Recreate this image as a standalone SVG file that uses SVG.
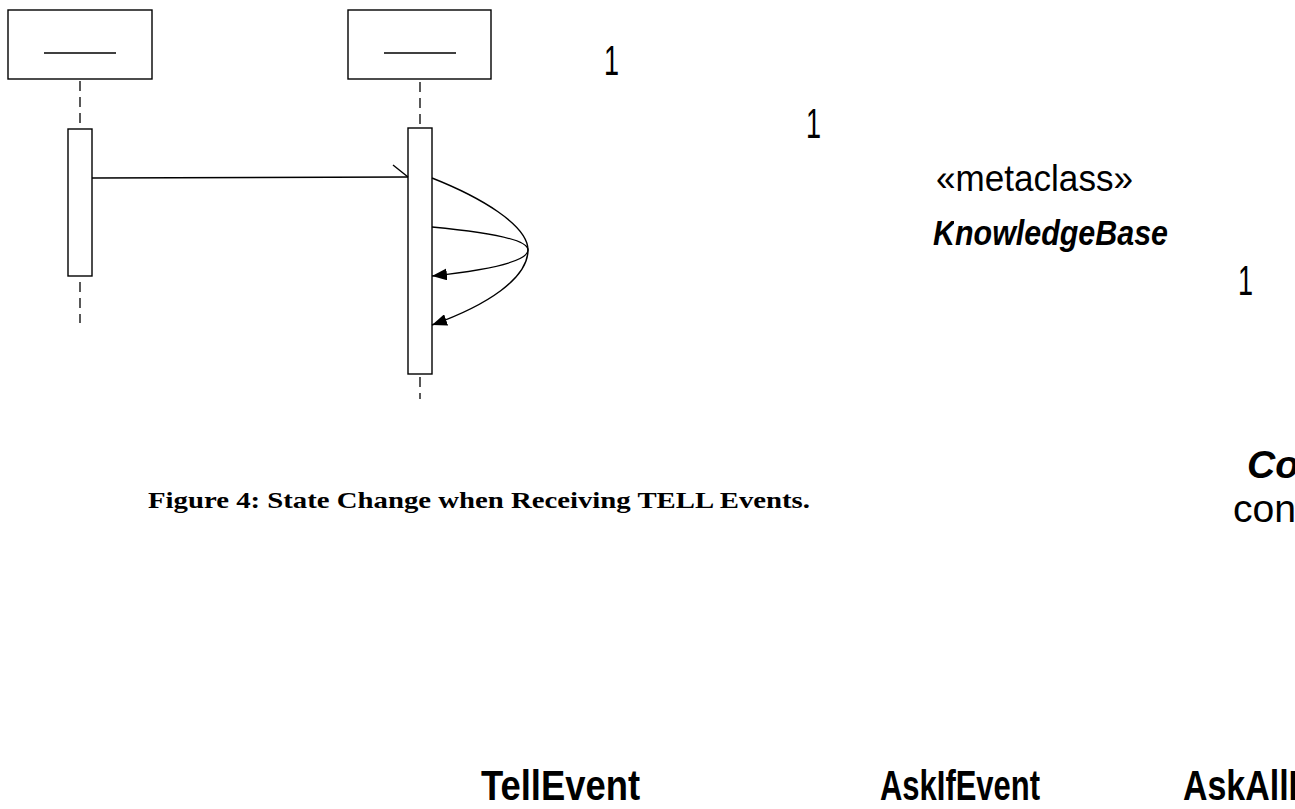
<svg xmlns="http://www.w3.org/2000/svg" width="1295" height="809" viewBox="0 0 1295 809">
  <style>
    .box { fill: #fff; stroke: #000; stroke-width: 1.4; }
    .life { stroke: #000; stroke-width: 1.3; stroke-dasharray: 10 6; fill: none; }
    .msg { stroke: #000; stroke-width: 1.4; fill: none; }
    .sans { font-family: "Liberation Sans", Arial, sans-serif; fill: #000; }
    .serif { font-family: "Liberation Serif", "Times New Roman", serif; fill: #000; }
  </style>
  <defs>
    <marker id="solidHead" viewBox="0 0 15 12" refX="15" refY="6" markerWidth="15" markerHeight="12" markerUnits="userSpaceOnUse" orient="auto">
      <path d="M0,0 L15,6 L0,12 Z" fill="#000"/>
    </marker>
    <!-- the middle letters of the class name lose their tops -->
    <clipPath id="kbClip">
      <path d="M900,190 H1200 V260 H900 Z M954,190 V226 H1000 V190 Z" clip-rule="evenodd"/>
    </clipPath>
  </defs>

  <!-- first object: head box, lifeline, activation -->
  <g id="objectA">
    <rect class="box" x="8" y="10" width="144" height="69"/>
    <line x1="44" y1="53" x2="116" y2="53" stroke="#000" stroke-width="1.4"/>
    <line class="life" x1="80" y1="81" x2="80" y2="128"/>
    <rect class="box" x="68" y="129" width="24" height="147"/>
    <line class="life" x1="80" y1="282" x2="80" y2="323"/>
  </g>

  <!-- second object: head box, lifeline, activation -->
  <g id="objectB">
    <rect class="box" x="348" y="10" width="143" height="69"/>
    <line x1="384" y1="53" x2="456" y2="53" stroke="#000" stroke-width="1.4"/>
    <line class="life" x1="420" y1="82" x2="420" y2="127"/>
    <rect class="box" x="408" y="128" width="24" height="246"/>
    <line class="life" x1="420" y1="377" x2="420" y2="399"/>
  </g>

  <!-- messages -->
  <g id="connectors">
    <line class="msg" x1="92" y1="178" x2="408" y2="177"/>
    <line class="msg" x1="393" y1="165" x2="408" y2="177"/>
    <path class="msg" d="M432,178 C480,197 528,225 528,250 C528,278 488,305 432,325" marker-end="url(#solidHead)"/>
    <path class="msg" d="M432,227 C475,231 528,238 528,250 C528,263 478,271 432,276" marker-end="url(#solidHead)"/>
  </g>

  <!-- multiplicities -->
  <g id="mult1"><text class="sans" x="604" y="75" font-size="42" textLength="15" lengthAdjust="spacingAndGlyphs">1</text></g>
  <g id="mult2"><text class="sans" x="806" y="138" font-size="42" textLength="15" lengthAdjust="spacingAndGlyphs">1</text></g>
  <g id="mult3"><text class="sans" x="1238" y="295" font-size="42" textLength="15" lengthAdjust="spacingAndGlyphs">1</text></g>

  <!-- metaclass -->
  <g id="knowledgeBase">
    <text class="sans" x="936" y="191" font-size="36" textLength="197" lengthAdjust="spacingAndGlyphs">«metaclass»</text>
    <text class="sans" x="933" y="245" font-size="35" font-weight="bold" font-style="italic" textLength="235" lengthAdjust="spacingAndGlyphs" clip-path="url(#kbClip)">KnowledgeBase</text>
  </g>

  <!-- right-edge class -->
  <g id="co">
    <text class="sans" x="1247" y="478" font-size="38" font-weight="bold" font-style="italic" textLength="52" lengthAdjust="spacingAndGlyphs">Co</text>
    <text class="sans" x="1233" y="522" font-size="38" textLength="74" lengthAdjust="spacingAndGlyphs">cont</text>
  </g>

  <!-- caption -->
  <g id="caption">
    <text class="serif" x="148" y="508" font-size="24" font-weight="bold" textLength="662" lengthAdjust="spacingAndGlyphs">Figure 4: State Change when Receiving TELL Events.</text>
  </g>

  <!-- event classes -->
  <g id="tellEvent"><text class="sans" x="481" y="800" font-size="42" font-weight="bold" textLength="159" lengthAdjust="spacingAndGlyphs">TellEvent</text></g>
  <g id="askIfEvent"><text class="sans" x="880" y="800" font-size="42" font-weight="bold" textLength="160" lengthAdjust="spacingAndGlyphs">AskIfEvent</text></g>
  <g id="askAllEvent"><text class="sans" x="1183" y="800" font-size="42" font-weight="bold" textLength="115" lengthAdjust="spacingAndGlyphs">AskAllI</text></g>
</svg>
